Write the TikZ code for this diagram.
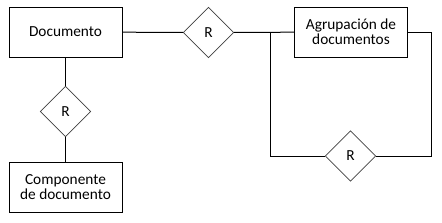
\documentclass[tikz,border=0pt]{standalone}
\usepackage{fontspec}
\setmainfont{Carlito}
\usepackage{tikz}
\usetikzlibrary{positioning, shapes.geometric, calc}

\begin{document}
\begin{tikzpicture}[
  x=0.75pt, y=-0.75pt,
  font=\fontsize{11.5}{13.5}\selectfont,
  entbox/.style={draw=black, line width=0.75pt, minimum width=84.75pt,
                 minimum height=37.5pt, align=center, inner sep=2pt},
  relbox/.style={diamond, draw=black!75, line width=0.6pt, aspect=1,
                 minimum width=38pt, minimum height=38pt, inner sep=0pt},
  conn/.style={line width=0.75pt, draw=black},
]
  \useasboundingbox (0,0) rectangle (442,222);

  % Entities
  \node[entbox] (doc) at (65.5,32) {Documento};
  \node[entbox] (agrup) at (351,32) {Agrupación de\\[-2pt]documentos};
  \node[entbox] (comp) at (65.5,187) {Componente\\[-2pt]de documento};

  % Relationships
  \node[relbox] (rdoc) at (208.5,32.5) {R};
  \node[relbox] (rcomp) at (65.5,111.5) {R};
  \node[relbox] (ragrup) at (350.5,156) {R};

  % Corners of the loop
  \coordinate (split) at (270,32);
  \coordinate (back) at (431,32);

  % Connectors
  \draw[conn] (doc) -- (rdoc);
  \draw[conn] (rdoc) -- (agrup);
  \draw[conn] (doc) -- (rcomp);
  \draw[conn] (rcomp) -- (comp);
  \draw[conn] (split) |- (ragrup);
  \draw[conn] (ragrup) -| (back) -- (agrup);
\end{tikzpicture}
\end{document}
